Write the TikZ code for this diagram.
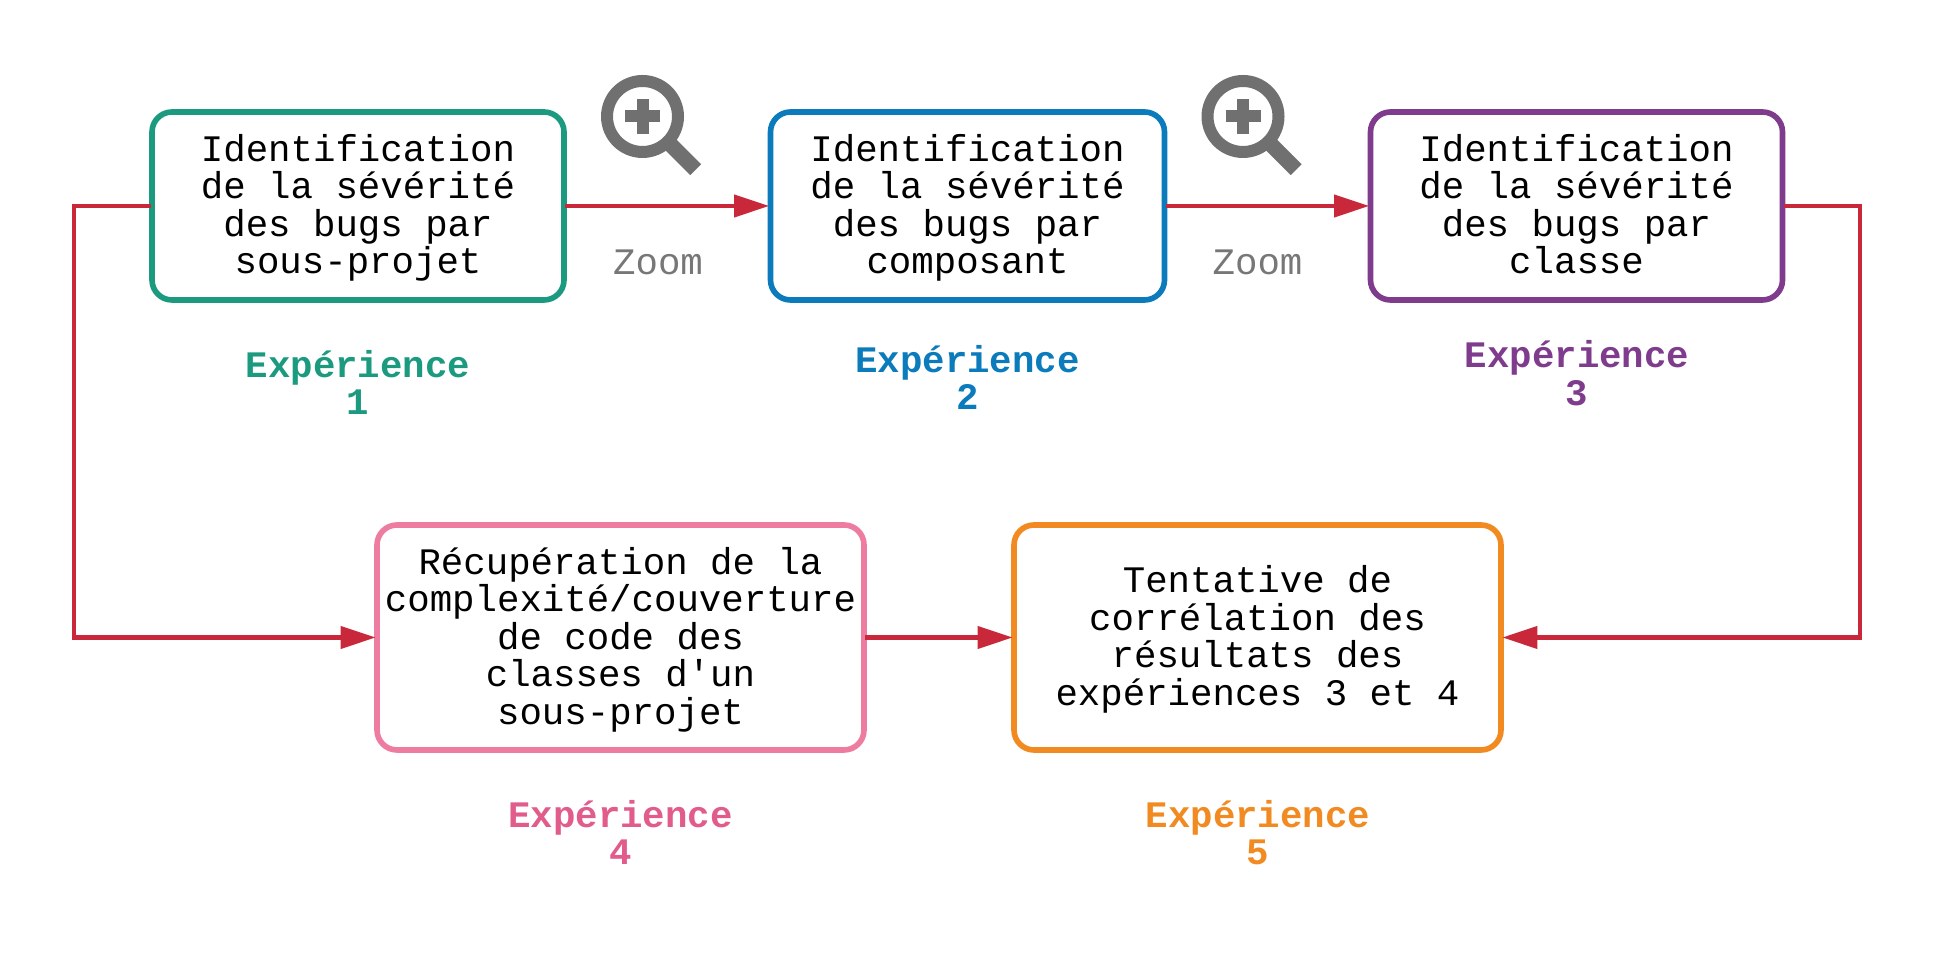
\documentclass[tikz,border=0pt]{standalone}
\usepackage{fontspec}
\setmonofont{Liberation Mono}
\usetikzlibrary{arrows.meta}
\definecolor{expgreen}{HTML}{1B9A7F}
\definecolor{expblue}{HTML}{0B7BBC}
\definecolor{exppurple}{HTML}{7F3B8C}
\definecolor{exppink}{HTML}{EE7BA0}
\definecolor{exppinktext}{HTML}{E15B8B}
\definecolor{exporange}{HTML}{F18A20}
\definecolor{flowred}{HTML}{C8283A}
\definecolor{zoomgray}{HTML}{707070}
\begin{document}
\begin{tikzpicture}[
    every node/.style={font=\ttfamily\fontsize{10.64}{10.67}\selectfont, align=center},
    expbox/.style={draw, line width=1.6pt, outer sep=0.4pt, rounded corners=0.2cm, inner sep=0pt, text depth=0.037cm, minimum height=1.88cm},
    explabel/.style={font=\ttfamily\bfseries\fontsize{10.64}{10.67}\selectfont},
    zoomlabel/.style={text=zoomgray!95!white},
    flow/.style={draw=flowred, line width=1.15pt, -{Triangle[length=0.35cm,width=0.22cm]}},
    zoomicon/.pic={
      \draw[zoomgray, line width=0.12cm] (0,0) circle (0.355);
      \fill[zoomgray] (-0.175,-0.06) rectangle (0.175,0.06);
      \fill[zoomgray] (-0.06,-0.175) rectangle (0.06,0.175);
      \fill[zoomgray, rotate=-45] (0.38,-0.077) rectangle (0.753,0.077);
    }]
      \useasboundingbox (0,0) rectangle (19.37,9.56);
      % Top row of boxes
      \node[expbox, draw=expgreen, minimum width=4.12cm] (box1) at (3.58,7.5)
        {Identification\\de la sévérité\\des bugs par\\sous-projet};
      \node[expbox, draw=expblue, minimum width=3.94cm] (box2) at (9.675,7.5)
        {Identification\\de la sévérité\\des bugs par\\composant};
      \node[expbox, draw=exppurple, minimum width=4.12cm] (box3) at (15.765,7.5)
        {Identification\\de la sévérité\\des bugs par\\classe};
      % Bottom row of boxes
      \node[expbox, draw=exppink, minimum width=4.87cm, minimum height=2.25cm] (box4) at (6.205,3.185)
        {Récupération de la\\complexité/couverture\\de code des\\classes d'un\\sous-projet};
      \node[expbox, draw=exporange, minimum width=4.87cm, minimum height=2.25cm] (box5) at (12.575,3.185)
        {Tentative de\\corrélation des\\résultats des\\expériences 3 et 4};
      % Experiment labels
      \node[explabel, text=expgreen] (exp1) at (3.58,5.735) {Expérience\\1};
      \node[explabel, text=expblue] (exp2) at (9.675,5.785) {Expérience\\2};
      \node[explabel, text=exppurple] (exp3) at (15.77,5.83) {Expérience\\3};
      \node[explabel, text=exppinktext] (exp4) at (6.205,1.235) {Expérience\\4};
      \node[explabel, text=exporange] (exp5) at (12.58,1.235) {Expérience\\5};
      % Zoom icons between the top boxes
      \pic at (6.425,8.395) {zoomicon};
      \pic at (12.43,8.395) {zoomicon};
      \node[zoomlabel] (zoom1) at (6.58,6.94) {Zoom};
      \node[zoomlabel] (zoom2) at (12.575,6.94) {Zoom};
      % Connectors
      \coordinate (leftbus) at (0.74,7.5);
      \coordinate (rightbus) at (18.6,7.5);
      \draw[flow] (box1) -- (box2);
      \draw[flow] (box2) -- (box3);
      \draw[flow] (box1.west) -- (leftbus) |- (box4.west);
      \draw[flow] (box3.east) -- (rightbus) |- (box5.east);
      \draw[flow] (box4) -- (box5);
    \end{tikzpicture}
\end{document}
